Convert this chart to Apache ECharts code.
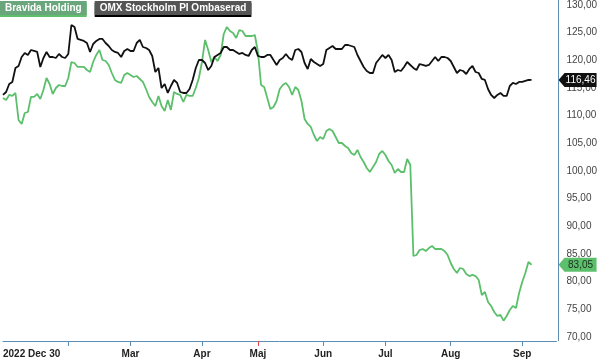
<!DOCTYPE html>
<html><head><meta charset="utf-8">
<script src="https://cdn.jsdelivr.net/npm/echarts@6/dist/echarts.min.js"></script>
<style>html,body{margin:0;padding:0;background:#fff}#c{width:600px;height:359px}</style>
</head><body><div id="c"></div>
<script>
const seriesNames = ['Bravida Holding', 'OMX Stockholm PI Ombaserad'];

const bravida = [
113.19,112.83,113.74,113.56,114.10,109.22,108.50,110.48,110.66,113.38,
113.38,113.92,113.01,114.64,116.81,115.72,113.92,115.00,115.54,115.36,
115.36,116.81,119.70,119.52,118.80,118.80,118.80,118.25,117.89,119.70,
120.97,121.87,120.06,119.88,119.16,117.71,116.45,116.09,115.91,117.35,
117.71,117.35,116.99,117.17,116.63,116.09,114.82,113.38,112.47,111.75,
113.56,111.75,110.85,112.83,111.03,114.28,113.92,113.74,112.47,113.74,
113.56,113.56,115.00,116.81,119.70,123.68,121.87,119.70,120.60,119.88,
120.97,124.76,126.03,125.30,124.94,124.04,125.48,125.30,124.40,124.40,
124.40,124.58,121.51,115.54,115.18,113.19,111.21,111.57,112.65,114.82,
115.54,115.91,115.18,113.74,115.18,114.64,112.65,109.40,108.50,107.96,
106.51,105.42,106.15,105.78,107.23,107.59,107.23,106.15,105.06,105.06,
104.52,104.16,103.25,102.89,103.80,102.53,101.63,100.54,99.82,100.72,
101.63,103.07,103.62,102.89,101.81,101.09,99.64,100.36,99.82,99.82,
102.17,101.09,84.64,84.82,85.72,85.90,85.54,86.08,86.45,85.90,
85.90,85.90,85.54,84.82,83.37,82.29,81.57,82.47,82.29,81.39,
81.02,81.21,81.02,80.30,77.59,78.13,76.33,75.60,74.52,73.80,
73.98,72.95,73.80,74.88,75.60,75.24,77.95,79.94,81.57,83.55,
83.05];

const omx = [
113.74,114.28,115.72,116.09,118.62,118.98,120.60,121.33,120.97,121.87,
121.69,121.51,118.80,120.42,121.51,120.60,120.60,120.42,121.15,120.60,
120.42,121.15,126.39,126.03,123.86,123.68,123.50,123.13,121.51,122.95,
123.50,123.86,123.86,123.13,122.59,121.87,121.51,121.33,120.60,121.69,
122.05,121.69,121.69,123.13,123.68,122.41,122.23,121.87,120.79,117.89,
118.62,115.00,115.72,114.10,115.36,116.45,115.91,114.28,114.10,114.10,
114.82,116.45,118.62,120.06,120.06,119.52,118.25,118.98,120.60,120.97,
121.33,122.41,122.41,121.87,121.87,121.51,121.15,121.33,120.97,120.79,
121.87,122.41,120.79,120.60,120.60,120.97,120.97,120.06,119.16,120.06,
120.42,121.15,120.42,120.06,121.87,122.05,121.51,119.52,118.44,120.24,
119.70,119.34,118.98,119.34,121.87,122.23,122.59,122.05,122.05,122.05,
122.77,122.77,122.59,122.41,120.97,119.88,118.80,118.07,117.71,117.71,
119.52,120.24,120.97,120.42,120.97,120.06,117.89,118.25,118.07,118.80,
119.70,119.16,118.62,118.25,119.34,119.16,118.98,119.16,119.88,120.60,
119.88,120.60,120.60,120.42,119.88,118.80,117.71,118.25,118.07,117.53,
118.44,118.98,117.89,117.71,116.63,116.45,114.82,113.74,113.19,113.74,
114.10,113.56,113.56,115.36,115.91,115.72,116.09,116.09,116.27,116.45,
116.46];

// trading-day slots on the category axis (data + empty room on the right)
const slotCount = 179;
const tickIdx = [21, 41, 64, 103, 123, 144, 167];
const redTickIdx = [82];
const labelIdx = [0, 41, 64, 82, 103, 123, 144, 167];
const labelText = ['2022 Dec 30', 'Mar', 'Apr', 'Maj', 'Jun', 'Jul', 'Aug', 'Sep'];
const yMin = 70, yMax = 130, yStep = 5;

const colors = { green: '#5cbf6c', black: '#111111', axis: '#5b8db5', red: '#e8474a' };
const slots = Array.from({ length: slotCount }, (_, i) => i);
const fmt = v => v.toFixed(2).replace('.', ',');
const FONT = '"Liberation Sans", Arial, sans-serif';

function lastPoint(arr) { return [arr.length - 1, arr[arr.length - 1]]; }
const tagPath = 'path://M0,7 L6,0 L38,0 L38,14 L6,14 Z';

const chart = echarts.init(document.getElementById('c'), null, { renderer: 'canvas' });
const baseX = {
  type: 'category', data: slots, boundaryGap: false, position: 'bottom', offset: 4,
  axisLine: { show: true, lineStyle: { color: colors.axis, width: 1 } },
  axisTick: { show: true, length: 5, lineStyle: { color: colors.axis, width: 1 },
    interval: (i) => tickIdx.includes(i) },
  axisLabel: { show: true, margin: 8, fontFamily: FONT, fontSize: 10, fontWeight: 'bold', color: '#222',
    interval: (i) => labelIdx.includes(i), alignMinLabel: 'left',
    formatter: (v, i) => { const k = labelIdx.indexOf(i); return k >= 0 ? labelText[k] : ''; } },
  splitLine: { show: false }
};
chart.setOption({
  animation: false,
  backgroundColor: '#ffffff',
  grid: { left: 0, right: 42, top: 5, bottom: 22, containLabel: false },
  legend: {
    left: -5, top: 1, itemGap: 3, itemWidth: 0, itemHeight: 0, icon: 'none', selectedMode: false,
    padding: 0,
    data: [
      { name: seriesNames[0], textStyle: { color: '#ffffff', fontWeight: 'bold', fontSize: 10, fontFamily: FONT,
          backgroundColor: '#6aa67b', padding: [2, 5, 2, 5], shadowColor: colors.green, shadowOffsetY: 2, shadowBlur: 0 } },
      { name: seriesNames[1], textStyle: { color: '#ffffff', fontWeight: 'bold', fontSize: 10, fontFamily: FONT,
          backgroundColor: '#555555', padding: [2, 5, 2, 5], shadowColor: '#000000', shadowOffsetY: 2, shadowBlur: 0 } }
    ]
  },
  xAxis: [
    baseX,
    Object.assign({}, baseX, {
      axisLine: { show: false },
      axisTick: { show: true, length: 5, lineStyle: { color: colors.red, width: 1 }, interval: (i) => redTickIdx.includes(i) },
      axisLabel: { show: false }
    })
  ],
  yAxis: {
    type: 'value', position: 'right', min: yMin, max: yMax, interval: yStep,
    axisLine: { show: false }, axisTick: { show: false }, splitLine: { show: false },
    axisLabel: { margin: 10, fontFamily: FONT, fontSize: 10, color: '#444', formatter: fmt }
  },
  graphic: [{ type: 'line', shape: { x1: 558.5, y1: 0, x2: 558.5, y2: 341 }, style: { stroke: colors.axis, lineWidth: 1 }, z: 10 }],
  series: [
    { name: seriesNames[0], type: 'line', data: bravida, showSymbol: false, symbol: 'none', clip: false,
      lineStyle: { color: colors.green, width: 1.8 }, itemStyle: { color: colors.green }, z: 2,
      markPoint: { symbol: tagPath, symbolSize: [38, 14], symbolOffset: [46, 0], silent: true,
        data: [{ coord: lastPoint(bravida), value: lastPoint(bravida)[1] }],
        itemStyle: { color: colors.green },
        label: { show: true, position: 'inside', offset: [3, 0], color: '#1a2e1c', fontSize: 10, fontFamily: FONT,
          formatter: p => fmt(p.value) } } },
    { name: seriesNames[1], type: 'line', data: omx, showSymbol: false, symbol: 'none', clip: false,
      lineStyle: { color: colors.black, width: 1.8 }, itemStyle: { color: colors.black }, z: 3,
      markPoint: { symbol: tagPath, symbolSize: [38, 14], symbolOffset: [46, 0], silent: true,
        data: [{ coord: lastPoint(omx), value: lastPoint(omx)[1] }],
        itemStyle: { color: colors.black },
        label: { show: true, position: 'inside', offset: [3, 0], color: '#ffffff', fontSize: 10, fontFamily: FONT,
          formatter: p => fmt(p.value) } } }
  ]
});
</script>
</body></html>
